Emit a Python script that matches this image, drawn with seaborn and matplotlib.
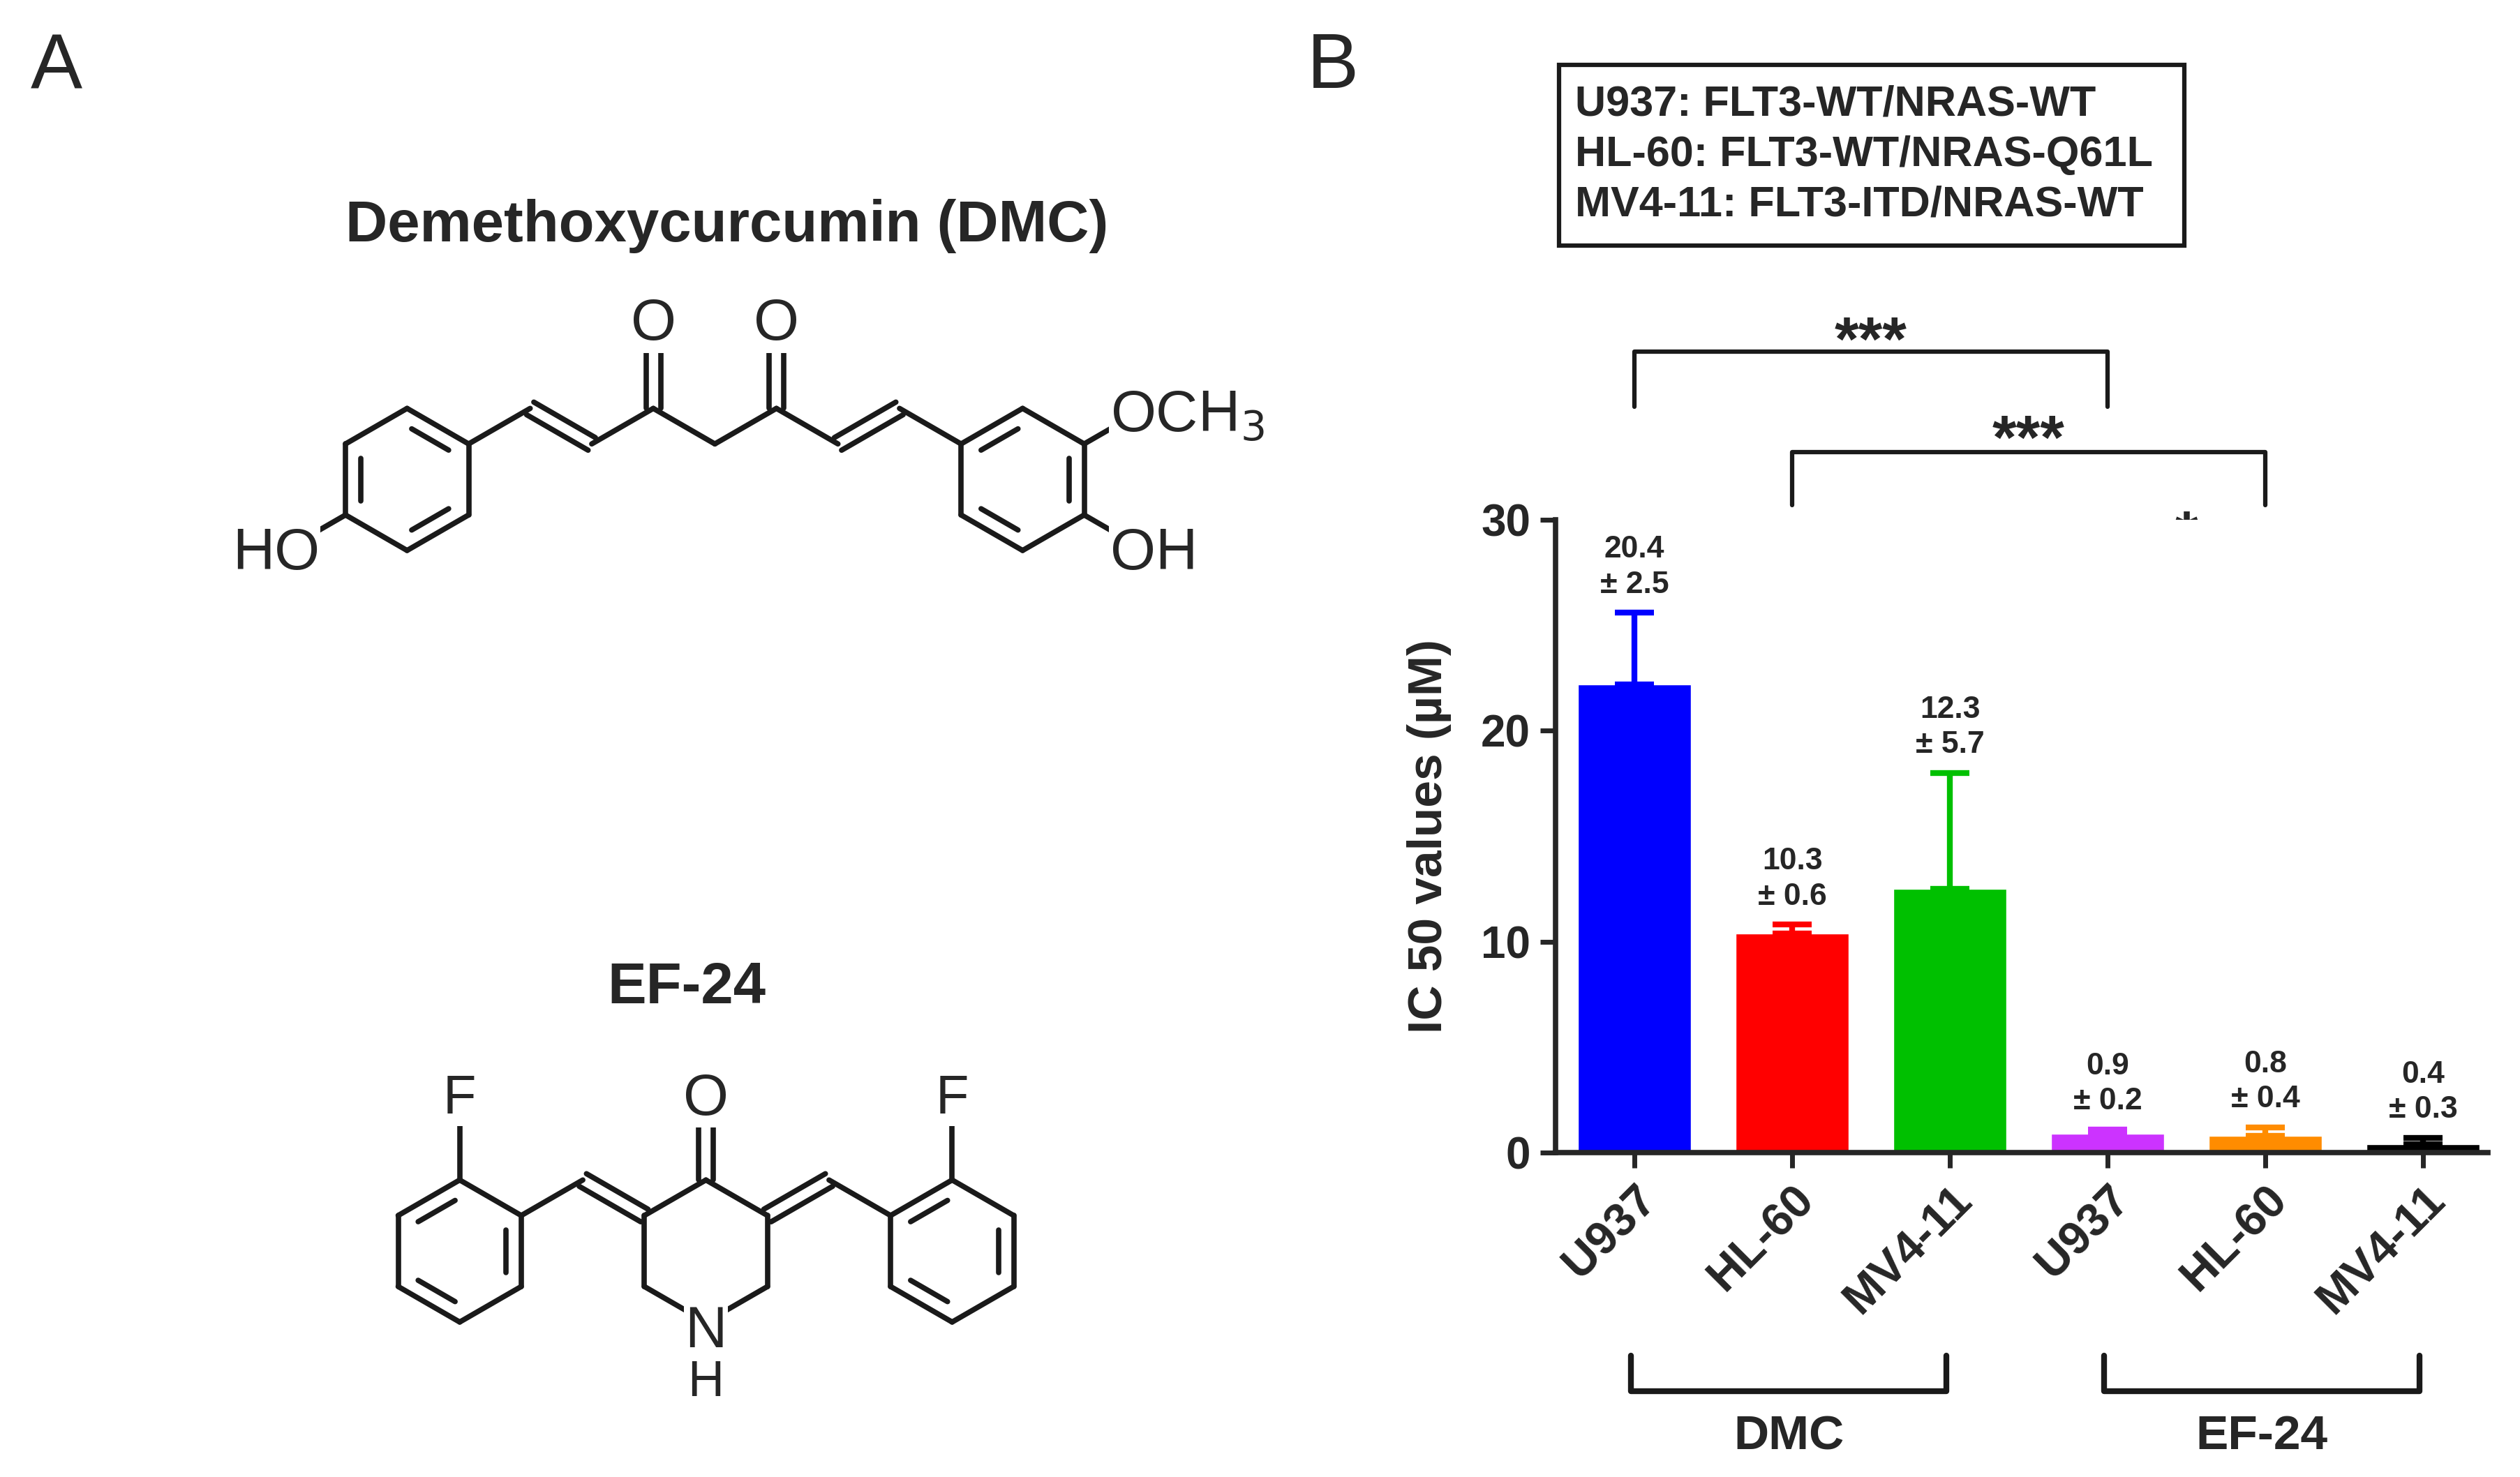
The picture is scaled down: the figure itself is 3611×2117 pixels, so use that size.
import numpy as np
import matplotlib
matplotlib.use("Agg")
import matplotlib.pyplot as plt
import seaborn as sns

# ---- data ----
cells = ["U937", "HL-60", "MV4-11", "U937", "HL-60", "MV4-11"]
keys = ["DMC U937", "DMC HL-60", "DMC MV4-11", "EF U937", "EF HL-60", "EF MV4-11"]
bar_height = [22.2, 10.4, 12.5, 0.9, 0.8, 0.4]
bar_err = [3.4, 0.4, 5.5, 0.2, 0.4, 0.3]
ic50_text = ["20.4\n± 2.5", "10.3\n± 0.6", "12.3\n± 5.7", "0.9\n± 0.2", "0.8\n± 0.4", "0.4\n± 0.3"]
colors = ["#0000ff", "#ff0000", "#00c000", "#cc33ff", "#ff8c00", "#000000"]
y_ticks = [0, 10, 20, 30]
legend_lines = ["U937: FLT3-WT/NRAS-WT", "HL-60: FLT3-WT/NRAS-Q61L", "MV4-11: FLT3-ITD/NRAS-WT"]
# significance brackets: (bar i, bar j, label)
sig = [(0, 3, "***"), (1, 4, "***"), (2, 5, "*")]

sns.set_theme(style="ticks")
plt.rcParams["font.family"] = ["Liberation Sans", "DejaVu Sans"]

W, H = 1560, 915
fig = plt.figure(figsize=(36.11, 21.17), dpi=100)
ov = fig.add_axes([0, 0, 1, 1])
ov.set_xlim(0, W)
ov.set_ylim(H, 0)
ov.axis("off")

LW = 5.5
L = 44.0
ANG = [(90 + 60 * k) % 360 for k in range(6)]


def d(a):
    r = np.deg2rad(a)
    return np.array([np.cos(r), -np.sin(r)])


def bond(p, q, double=False):
    p, q = np.array(p), np.array(q)
    if not double:
        ov.plot([p[0], q[0]], [p[1], q[1]], color="k", lw=LW, solid_capstyle="round")
        return
    v = q - p
    n = np.array([-v[1], v[0]]) / np.linalg.norm(v) * 4.5
    for s in (1, -1):
        ov.plot([p[0] + s * n[0], q[0] + s * n[0]], [p[1] + s * n[1], q[1] + s * n[1]],
                color="k", lw=LW, solid_capstyle="round")


def ring(c, inner=(0, 2, 4)):
    c = np.array(c)
    vs = [c + L * d(a) for a in ANG]
    for k in range(6):
        bond(vs[k], vs[(k + 1) % 6])
    for k in inner:
        a, b = vs[k], vs[(k + 1) % 6]
        a2 = c + (a - c) * 0.75
        b2 = c + (b - c) * 0.75
        m = (a2 + b2) / 2
        a2 = m + (a2 - m) * 0.8
        b2 = m + (b2 - m) * 0.8
        ov.plot([a2[0], b2[0]], [a2[1], b2[1]], color="k", lw=LW)
    return {a: v for a, v in zip(ANG, vs)}


def atom(p, s, ha="center", fs=60):
    ov.text(p[0], p[1], s, ha=ha, va="center", fontsize=fs, zorder=5,
            bbox=dict(facecolor="white", edgecolor="none", pad=1))


def label(p, s, ha):
    ov.text(p[0], p[1], s, fontsize=60, ha=ha, va="center", zorder=5,
            bbox=dict(facecolor="white", edgecolor="none", pad=1))


# ---- panel letters ----
ov.text(35, 42, "A", fontsize=80, ha="center", va="center")
ov.text(825, 42, "B", fontsize=80, ha="center", va="center")

# ---- panel A: DMC ----
ov.text(450, 140, "Demethoxycurcumin (DMC)", fontsize=60, fontweight="bold", ha="center", va="center")
r1 = ring((252, 297), inner=(1, 3, 5))
chain = [r1[30]]
for k in range(7):
    chain.append(chain[-1] + L * d(30 if k % 2 == 0 else -30))
for k in range(7):
    bond(chain[k], chain[k + 1], double=(k in (1, 6)))
for idx in (3, 5):
    o = chain[idx] + L * d(90)
    bond(chain[idx], o, double=True)
    atom(o - np.array([0, 8]), "O")
a2 = chain[7] + L * d(-30)
bond(chain[7], a2)
r2 = ring(a2 + L * d(-30), inner=(0, 2, 4))
och = r2[30] + L * d(30)
bond(r2[30], och)
label((och[0] - 22, och[1] + 5), r"OCH$_3$", "left")
oh = r2[330] + L * d(-30)
bond(r2[330], oh)
label((oh[0] - 22, oh[1] + 2), "OH", "left")
ho = r1[210] + L * d(210)
bond(r1[210], ho)
label((ho[0] + 22, ho[1] + 2), "HO", "right")

# ---- panel A: EF-24 ----
ov.text(425, 612, "EF-24", fontsize=60, fontweight="bold", ha="center", va="center")
cc = np.array([437, 775])
cv = {a: cc + L * d(a) for a in ANG}
for k in range(6):
    bond(cv[ANG[k]], cv[ANG[(k + 1) % 6]])
o = cv[90] + L * d(90)
bond(cv[90], o, double=True)
atom(o - np.array([0, 6]), "O")
atom(cv[270] + np.array([0, 6]), "N")
ov.text(cv[270][0], cv[270][1] + 38, "H", fontsize=52, ha="center", va="center")
for side in (1, -1):
    base = cv[150] if side == 1 else cv[30]
    ang = 150 if side == 1 else 30
    ch = base + L * d(ang)
    bond(base, ch, double=True)
    att_ang = 210 if side == 1 else -30
    att = ch + L * d(att_ang)
    bond(ch, att)
    pr = ring(att + L * d(att_ang), inner=(0, 2, 4))
    f = pr[90] + L * d(90)
    bond(pr[90], f)
    atom(f - np.array([0, 6]), "F", fs=56)

# ---- panel B: legend box ----
ov.add_patch(plt.Rectangle((965, 40), 387, 112, fill=False, lw=4.5, ec="k"))
for i, s in enumerate(legend_lines):
    ov.text(975, 65 + 31 * i, s, fontsize=44, fontweight="bold", ha="left", va="center")

# ---- panel B: bar chart ----
x0, x1, yb, yt = 963, 1540, 714, 322
ax = fig.add_axes([x0 / W, 1 - yb / H, (x1 - x0) / W, (yb - yt) / H])
sns.barplot(x=keys, y=bar_height, hue=keys, palette=colors, legend=False,
            width=0.72, ax=ax, saturation=1)
for i in range(len(keys)):
    ax.errorbar(i, bar_height[i], yerr=[[0], [bar_err[i]]], fmt="none",
                ecolor=colors[i], elinewidth=6, capsize=20, capthick=6)
    ax.annotate(ic50_text[i], (i, bar_height[i] + bar_err[i]), xytext=(0, 14),
                textcoords="offset points", ha="center", va="bottom",
                fontsize=32, fontweight="bold", linespacing=1.3)
ax.set_xlim(-0.5, 5.41)
ax.set_ylim(0, 30)
ax.set_yticks(y_ticks)
ax.set_yticklabels([str(t) for t in y_ticks], fontsize=46, fontweight="bold")
ax.set_xticks(range(len(cells)))
ax.set_xticklabels(cells, rotation=45, ha="right", rotation_mode="anchor",
                   fontsize=48, fontweight="bold")
ax.set_ylabel("IC 50 values (µM)", fontsize=50, fontweight="bold", labelpad=30)
ax.tick_params(width=5, length=16, pad=10)
for s in ("left", "bottom"):
    ax.spines[s].set_linewidth(5.5)
sns.despine(ax=ax)

# ---- brackets ----
bx = [x0 + (i + 0.5) * (x1 - x0) / 5.91 for i in range(6)]
levels = [(218, 252, 205), (280, 313, 266), (338, 365, 325)]
for (i, j, lab), (ytop, yleg, ys) in zip(sig, levels):
    ov.plot([bx[i], bx[i], bx[j], bx[j]], [yleg, ytop, ytop, yleg], color="k", lw=4.5)
    ov.text((bx[i] + bx[j]) / 2, ys + 8, lab, fontsize=64, fontweight="bold", ha="center", va="center")
for (i, j), lab in zip([(0, 2), (3, 5)], ["DMC", "EF-24"]):
    xa, xb = bx[i] - 2, bx[j] - 2
    ov.plot([xa, xa, xb, xb], [840, 862, 862, 840], color="k", lw=6)
    ov.text((xa + xb) / 2, 890, lab, fontsize=50, fontweight="bold", ha="center", va="center")

fig.savefig("out.png", dpi=100, facecolor="white")
